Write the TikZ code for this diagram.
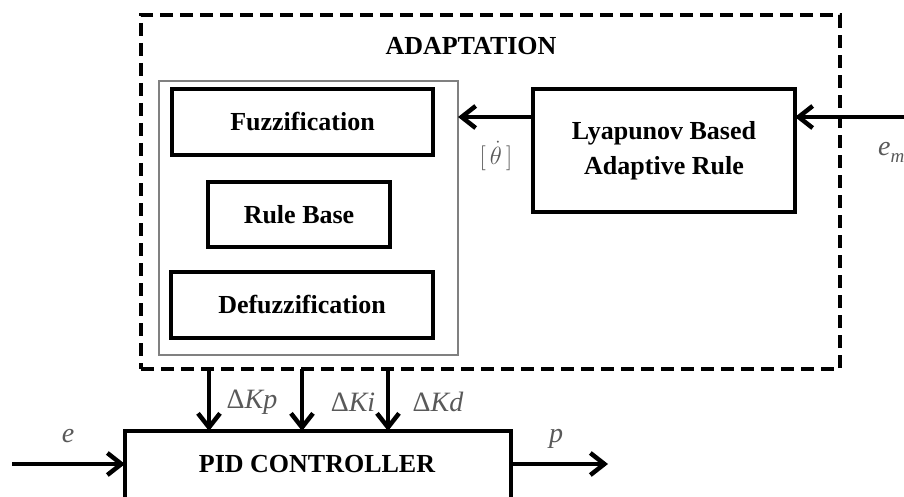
\documentclass[tikz,border=0pt]{standalone}
\usepackage{fontspec}
\setmainfont{Liberation Serif}
\usetikzlibrary{arrows.meta}
\begin{document}
\begin{tikzpicture}[x=1pt,y=-1pt,
  blk/.style={draw, line width=3.5pt, inner sep=0pt, outer sep=0pt, align=center,
    font=\bfseries\fontsize{26}{35}\selectfont},
  dashbox/.style={draw, line width=3.5pt, dash pattern=on 13pt off 7pt, inner sep=0pt, outer sep=0pt},
  graybox/.style={draw=black!50, line width=1.5pt, inner sep=0pt, outer sep=0pt},
  arr/.style={line width=4pt, -{Straight Barb[length=14pt,width=22pt,line width=4.5pt]}},
  lbl/.style={text=black!65, inner sep=0pt, font=\fontsize{28}{32}\selectfont},
  ttl/.style={inner sep=0pt, font=\bfseries\fontsize{26}{30}\selectfont}]
\useasboundingbox (0,0) rectangle (904,497);
\begin{scope}
\clip (0,0) rectangle (904,497);
% boxes
\node[dashbox, minimum width=699pt, minimum height=354pt] (adapt) at (490.5,192) {};
\node[graybox, minimum width=299pt, minimum height=274pt] (inner) at (308.5,218) {};
\node[blk, minimum width=261pt, minimum height=66pt] (fuzz) at (302.5,122) {Fuzzification};
\node[blk, minimum width=182pt, minimum height=65pt] (rule) at (299,214.5) {Rule Base};
\node[blk, minimum width=262pt, minimum height=66pt] (defuzz) at (302,305) {Defuzzification};
\node[blk, minimum width=262pt, minimum height=123pt] (lyap) at (664,150.5) {Lyapunov Based\\Adaptive Rule};
\node[blk, minimum width=386pt, minimum height=70pt] (pid) at (318,466) {};
\node[ttl] (pidtxt) at (317,464) {PID CONTROLLER};
\node[ttl] (title) at (471,46) {ADAPTATION};
% coordinates
\coordinate (emin) at (904,117);
\coordinate (kp) at (209,0);
\coordinate (ki) at (302,0);
\coordinate (kd) at (388,0);
\coordinate (ein) at (12,464);
\coordinate (pout) at (608,464);
% connectors
\draw[arr] (emin) -- (emin -| lyap.east);
\draw[arr] (lyap.west |- emin) -- (inner.east |- emin);
\draw[arr] (adapt.south -| kp) -- (pid.north -| kp);
\draw[arr] (adapt.south -| ki) -- (pid.north -| ki);
\draw[arr] (adapt.south -| kd) -- (pid.north -| kd);
\draw[arr] (ein) -- (ein -| pid.west);
\draw[arr] (pid.east |- pout) -- (pout);
% labels
\node[lbl, font=\fontsize{34}{36}\selectfont] (theta) at (496,156) {$[\,\dot{\theta}\,]$};
\node[lbl] (lkp) at (252,402) {Δ\textit{Kp}};
\node[lbl] (lki) at (353,402) {Δ\textit{Ki}};
\node[lbl] (lkd) at (438,402) {Δ\textit{Kd}};
\node[lbl] (le) at (68,436) {\textit{e}};
\node[lbl] (lp) at (556,439) {\textit{p}};
\node[lbl, anchor=west] (lem) at (878,152) {\textit{e}\raisebox{-7pt}{\fontsize{19}{19}\selectfont\textit{m}}};
\end{scope}
\end{tikzpicture}
\end{document}
